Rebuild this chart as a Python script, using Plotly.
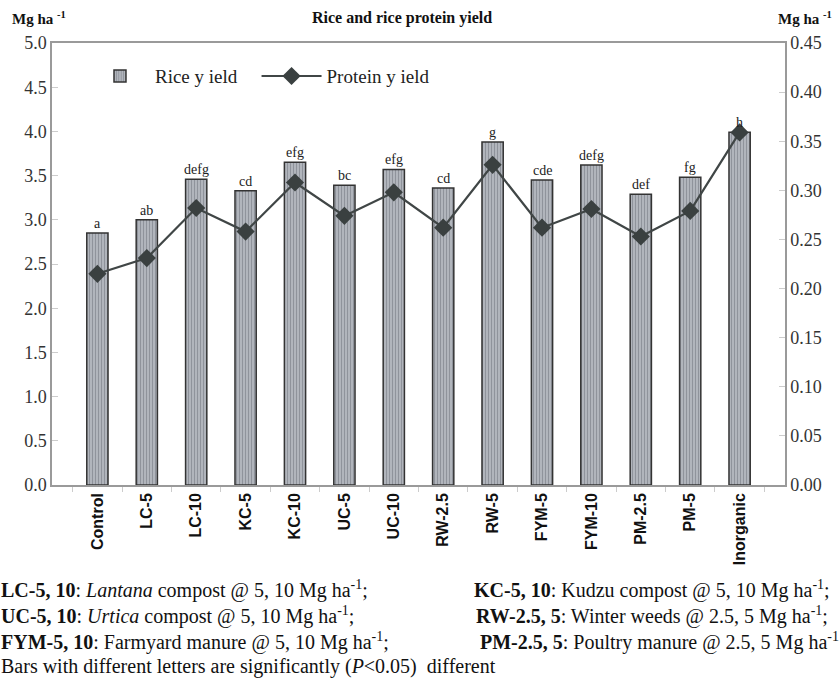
import plotly.graph_objects as go

categories = ["Control", "LC-5", "LC-10", "KC-5", "KC-10", "UC-5", "UC-10",
              "RW-2.5", "RW-5", "FYM-5", "FYM-10", "PM-2.5", "PM-5", "Inorganic"]
rice_yield = [2.85, 3.00, 3.46, 3.33, 3.65, 3.39, 3.57, 3.36, 3.88, 3.45, 3.62, 3.29, 3.48, 3.99]
protein_yield = [0.215, 0.231, 0.282, 0.258, 0.308, 0.274, 0.298, 0.262, 0.326, 0.262, 0.281, 0.253, 0.279, 0.359]
letters = ["a", "ab", "defg", "cd", "efg", "bc", "efg", "cd", "g", "cde", "defg", "def", "fg", "h"]
left_ticks = [0, 0.5, 1.0, 1.5, 2.0, 2.5, 3.0, 3.5, 4.0, 4.5, 5.0]
right_ticks = [0, 0.05, 0.10, 0.15, 0.20, 0.25, 0.30, 0.35, 0.40, 0.45]

SERIF = "Liberation Serif"
SANS = "Liberation Sans"
W, H = 839, 680
ML, MR, MT, MB = 52, 54, 43, 195

fig = go.Figure()
fig.add_trace(go.Bar(
    x=categories, y=rice_yield, name="Rice y ield\u00a0\u00a0\u00a0",
    width=0.43,
    marker=dict(color="#a0a4ac",
                line=dict(color="#333333", width=1.5),
                pattern=dict(shape="|", size=3, solidity=0.4,
                             fgcolor="#6a6e76", bgcolor="#b4b8c0", fillmode="overlay")),
))
fig.add_trace(go.Scatter(
    x=categories, y=protein_yield, name="Protein y ield", yaxis="y2",
    mode="lines+markers",
    line=dict(color="#404646", width=2.2),
    marker=dict(symbol="diamond", size=14, color="#3a4040"),
))

# significance letters above bars (data coordinates)
for c, v, t in zip(categories, rice_yield, letters):
    fig.add_annotation(x=c, y=v, xref="x", yref="y", text=t, showarrow=False,
                       yanchor="bottom", yshift=1, borderpad=0,
                       font=dict(family=SERIF, size=14, color="#222222"))

fig.update_layout(
    width=W, height=H,
    margin=dict(l=ML, r=MR, t=MT, b=MB, autoexpand=False),
    paper_bgcolor="white", plot_bgcolor="white",
    showlegend=True,
    legend=dict(orientation="h", x=0.045, y=0.925, xanchor="left", yanchor="middle",
                font=dict(family=SERIF, size=19, color="#222222"),
                bgcolor="rgba(0,0,0,0)", itemwidth=60),
    xaxis=dict(
        automargin=False,
        showline=True, linecolor="#9a9a9a", linewidth=1.5, mirror=True,
        ticks="outside", tickson="boundaries", ticklen=5, tickcolor="#cccccc",
        tickangle=-90,
        tickfont=dict(family=SANS, size=16, color="#111111", weight="bold"),
        showgrid=False,
    ),
    yaxis=dict(
        automargin=False,
        range=[0, 5], tickvals=left_ticks,
        ticktext=[f"{v:.1f}" for v in left_ticks],
        showline=True, linecolor="#9a9a9a", linewidth=1.5,
        ticks="inside", ticklen=6, tickcolor="#cccccc",
        tickfont=dict(family=SERIF, size=18, color="#333333"),
        showgrid=False, zeroline=False,
    ),
    yaxis2=dict(
        automargin=False,
        range=[0, 0.45], tickvals=right_ticks,
        ticktext=[f"{v:.2f}" for v in right_ticks],
        overlaying="y", side="right",
        showline=True, linecolor="#9a9a9a", linewidth=1.5,
        ticks="inside", ticklen=6, tickcolor="#cccccc",
        tickfont=dict(family=SERIF, size=18, color="#333333"),
        showgrid=False, zeroline=False,
    ),
)

annotations = [
    dict(text="<b>Rice and rice protein yield</b>", x=402, y=18, font=dict(size=16)),
    dict(text="<b>Mg ha <sup>-1</sup></b>", x=39, y=18, font=dict(size=15)),
    dict(text="<b>Mg ha <sup>-1</sup></b>", x=805, y=18, font=dict(size=15)),
]
foot_left = [
    "<b>LC-5, 10</b>: <i>Lantana</i> compost @ 5, 10 Mg ha<sup>-1</sup>;",
    "<b>UC-5, 10</b>: <i>Urtica</i> compost @ 5, 10 Mg ha<sup>-1</sup>;",
    "<b>FYM-5, 10</b>: Farmyard manure @ 5, 10 Mg ha<sup>-1</sup>;",
    "Bars with different letters are significantly (<i>P</i>&lt;0.05)  different",
]
foot_right = [
    ("<b>KC-5, 10</b>: Kudzu compost @ 5, 10 Mg ha<sup>-1</sup>;", 473),
    ("<b>RW-2.5, 5</b>: Winter weeds @ 2.5, 5 Mg ha<sup>-1</sup>;", 475),
    ("<b>PM-2.5, 5</b>: Poultry manure @ 2.5, 5 Mg ha<sup>-1</sup>", 479),
]
ys = [589, 615, 641, 666]
for i, t in enumerate(foot_left):
    annotations.append(dict(text=t, x=0, y=ys[i], xanchor="left", font=dict(size=20)))
for i, (t, xx) in enumerate(foot_right):
    annotations.append(dict(text=t, x=xx, y=ys[i], xanchor="left", font=dict(size=20)))

PW = W - ML - MR
PH = H - MT - MB
for a in annotations:
    a.setdefault("xanchor", "center")
    a["font"].update(family=SERIF, color="#111111")
    fig.add_annotation(xref="paper", yref="paper", showarrow=False,
                       x=(a["x"] - ML) / PW,
                       y=(H - MB - a["y"]) / PH,
                       yanchor="middle", xanchor=a["xanchor"],
                       borderpad=0,
                       text=a["text"], font=a["font"])

fig.write_html("out.html",
               config={"displayModeBar": False},
               post_script="document.body.style.margin='0';document.body.style.overflow='hidden';")
